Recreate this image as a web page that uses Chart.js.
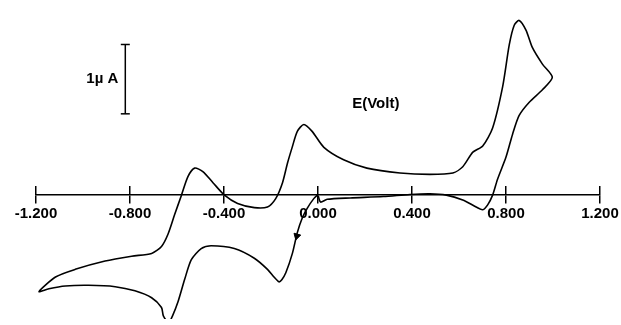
<!DOCTYPE html>
<html lang="en">
<head>
    <meta charset="UTF-8">
    <title>Cyclic voltammogram</title>
    <script src="https://cdn.jsdelivr.net/npm/chart.js"></script>
    <style>
        body { margin: 0; background: #fff; }
        canvas { display: block; }
    </style>
</head>
<body>
    <canvas id="cvChart" width="621" height="325"></canvas>

    <script>
        // potential (V) and current (uA), in scan order: 0 -> -1.2 -> 1.0 -> 0
        const potential = [
            0.000, -0.018, -0.046, -0.067, -0.088, -0.109, -0.137, -0.154, -0.166, -0.187,
            -0.215, -0.271, -0.356, -0.455, -0.497, -0.539, -0.567, -0.595, -0.619, -0.636,
            -0.658, -0.666, -0.708, -0.779, -0.863, -0.976, -1.075, -1.145, -1.187,
            -1.117, -1.033, -0.906, -0.793, -0.708, -0.666, -0.638, -0.610, -0.581, -0.553,
            -0.525, -0.490, -0.447, -0.398, -0.342, -0.271, -0.215, -0.180, -0.151, -0.130,
            -0.109, -0.088, -0.060, -0.025, 0.025, 0.109, 0.208, 0.349, 0.476, 0.574,
            0.616, 0.659, 0.701, 0.743, 0.786, 0.814, 0.835, 0.856, 0.885, 0.912,
            0.955, 0.997,
            0.955, 0.899, 0.856, 0.828, 0.800, 0.764, 0.743, 0.722, 0.701, 0.673,
            0.616, 0.546, 0.476, 0.391, 0.278, 0.137, 0.039, 0.011, 0.001
        ];
        const current = [
            0.00, -0.06, -0.20, -0.34, -0.55, -0.85, -1.13, -1.23, -1.26, -1.19,
            -1.08, -0.92, -0.78, -0.74, -0.78, -0.94, -1.22, -1.54, -1.75, -1.85,
            -1.75, -1.63, -1.49, -1.39, -1.33, -1.31, -1.32, -1.36, -1.40,
            -1.19, -1.08, -0.96, -0.89, -0.85, -0.75, -0.57, -0.29, -0.01, 0.26,
            0.38, 0.33, 0.17, -0.01, -0.13, -0.19, -0.18, -0.06, 0.17, 0.45,
            0.69, 0.91, 1.01, 0.91, 0.68, 0.50, 0.38, 0.31, 0.29, 0.31,
            0.40, 0.61, 0.70, 0.96, 1.56, 2.16, 2.44, 2.51, 2.37, 2.12,
            1.88, 1.69,
            1.51, 1.33, 1.14, 0.87, 0.54, 0.22, -0.01, -0.15, -0.22, -0.18,
            -0.08, -0.01, 0.01, 0.00, -0.03, -0.05, -0.07, -0.11, -0.02
        ];

        // 1 uA scale bar
        const barPotential = [-0.82, -0.82];
        const barCurrent = [1.163, 2.163];

        // scan direction arrow
        const arrowPotential = [-0.090];
        const arrowCurrent = [-0.60];

        const xTicks = [-1.2, -0.8, -0.4, 0.0, 0.4, 0.8, 1.2];

        const cvPoints = potential.map((v, i) => ({ x: v, y: current[i] }));
        const barPoints = barPotential.map((v, i) => ({ x: v, y: barCurrent[i] }));
        const arrowPoints = arrowPotential.map((v, i) => ({ x: v, y: arrowCurrent[i] }));

        const labelFont = "bold 15px 'Liberation Sans', Arial, sans-serif";

        // text labels placed in data units
        const textLabels = {
            id: 'textLabels',
            afterDraw(chart) {
                const ctx = chart.ctx;
                const xs = chart.scales.x, ys = chart.scales.y;
                ctx.save();
                ctx.fillStyle = '#000';
                ctx.font = labelFont;
                ctx.textBaseline = 'middle';
                ctx.textAlign = 'right';
                ctx.fillText('1\u00b5 A', xs.getPixelForValue(barPotential[0]) - 7,
                    ys.getPixelForValue((barCurrent[0] + barCurrent[1]) / 2));
                ctx.textAlign = 'center';
                ctx.fillText('E(Volt)', xs.getPixelForValue(0.246), ys.getPixelForValue(1.30));
                ctx.restore();
            }
        };

        const axisCommon = {
            type: 'linear',
            min: -1.2,
            max: 1.2,
            position: { y: 0 },
            afterBuildTicks: axis => { axis.ticks = xTicks.map(v => ({ value: v })); }
        };

        new Chart(document.getElementById('cvChart'), {
            type: 'scatter',
            data: {
                datasets: [{
                    data: cvPoints,
                    showLine: true,
                    borderColor: '#000',
                    borderWidth: 1.6,
                    pointRadius: 0,
                    tension: 0.25,
                    fill: false
                }, {
                    data: barPoints,
                    showLine: true,
                    borderColor: '#000',
                    borderWidth: 1.5,
                    pointStyle: 'line',
                    pointRadius: 4.5,
                    pointBorderWidth: 1.5,
                    pointBorderColor: '#000'
                }, {
                    data: arrowPoints,
                    showLine: false,
                    pointStyle: 'triangle',
                    pointRadius: 4,
                    pointRotation: 195,
                    pointBackgroundColor: '#000',
                    pointBorderColor: '#000',
                    pointBorderWidth: 1
                }]
            },
            options: {
                responsive: false,
                animation: false,
                layout: { padding: { left: 36, right: 21, top: 0, bottom: 0 } },
                plugins: { legend: { display: false }, tooltip: { enabled: false } },
                scales: {
                    x: {
                        ...axisCommon,
                        border: { display: true, color: '#000', width: 1.5 },
                        grid: { display: true, drawOnChartArea: false, drawTicks: true,
                                tickLength: 8, color: '#000', lineWidth: 1.5 },
                        ticks: {
                            padding: 2,
                            color: '#000',
                            maxRotation: 0,
                            autoSkip: false,
                            font: { family: "'Liberation Sans', Arial, sans-serif", weight: 'bold', size: 15 },
                            callback: v => (Math.abs(v) < 1e-9 ? 0 : v).toFixed(3)
                        }
                    },
                    x2: {
                        ...axisCommon,
                        axis: 'x',
                        border: { display: false },
                        grid: { display: true, drawOnChartArea: false, drawTicks: true,
                                tickLength: -8, color: '#000', lineWidth: 1.5 },
                        ticks: { display: false }
                    },
                    y: {
                        type: 'linear',
                        display: false,
                        min: -1.796,
                        max: 2.718
                    }
                }
            },
            plugins: [textLabels]
        });
    </script>
</body>
</html>
